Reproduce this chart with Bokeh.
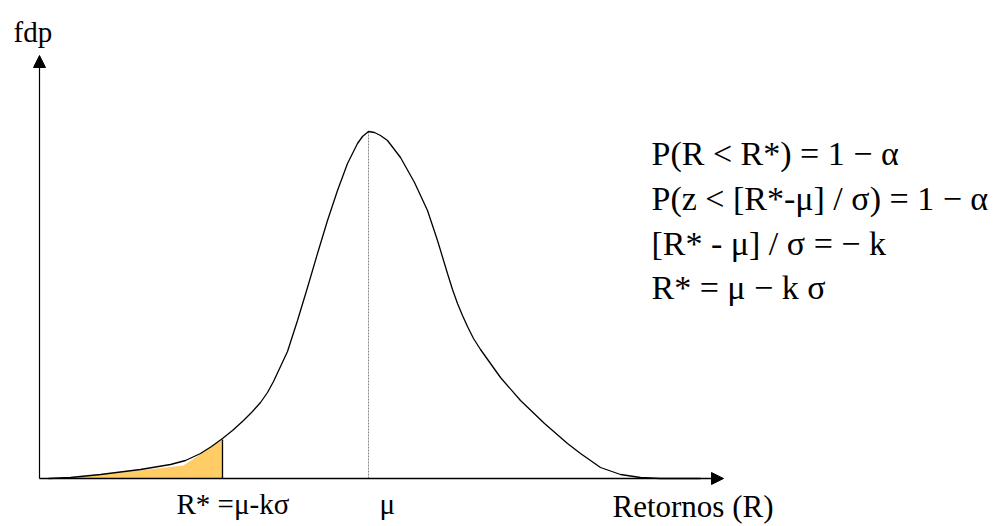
from bokeh.plotting import figure
from bokeh.models import Range1d, Arrow, NormalHead
from bokeh.embed import file_html
from bokeh.resources import INLINE
from bokeh.core.properties import value

# ---- data (returns on x, density on y, arbitrary units; origin at axes crossing) ----
ret = [9, 31, 61, 101, 131, 146, 161, 172, 183, 193, 204, 213, 221, 228, 234, 241, 248,
       258, 268, 278, 288, 298, 308, 318, 323, 329, 335, 341, 348, 361, 375, 388, 398,
       408, 413, 418, 423, 428, 434, 441, 461, 481, 505, 528, 541, 561, 581, 601, 621, 661]
fdp = [0, 1, 4, 9, 14, 18, 25, 32, 40, 48, 58, 67, 76, 86, 97, 112, 127,
       158, 191, 225, 258, 288, 315, 335, 342, 347, 346, 343, 338, 321, 296, 268, 238,
       205, 189, 175, 163, 152, 140, 129, 101, 78, 55, 35, 25, 11, 4, 1, 0, 0]

# shaded lower tail (approximate polygon as drawn)
shade_ret = [28, 144, 183, 183]
shade_fdp = [0, 13, 39, 0]

r_star = 183          # R* = mu - k sigma
r_star_fdp = 39
mu = 329              # mean
mu_fdp = 347          # peak density

x_axis_end = 684
y_axis_end = 423

tick_labels = ["R* =\u03bc-k\u03c3", "\u03bc"]
axis_labels = ["fdp", "Retornos (R)"]
equations = [
    "P(R < R*) = 1 \u2212 \u03b1",
    "P(z < [R*-\u03bc] / \u03c3) = 1 \u2212 \u03b1",
    "[R* - \u03bc] / \u03c3 = \u2212 k",
    "R* = \u03bc \u2212 k \u03c3",
]

FONT = value("Liberation Serif")

p = figure(width=998, height=526, output_backend="svg", toolbar_location=None,
           x_range=Range1d(-39, 959), y_range=Range1d(-48, 478),
           x_axis_type=None, y_axis_type=None, min_border=0, tools="",
           outline_line_color=None, background_fill_color="white",
           border_fill_color="white")

# shaded tail
p.patch(shade_ret, shade_fdp, fill_color="#FFCC66", line_color=None)
p.segment(x0=[r_star], y0=[0], x1=[r_star], y1=[r_star_fdp], line_color="black", line_width=1.3)

# mean line
p.segment(x0=[mu], y0=[0], x1=[mu], y1=[mu_fdp], line_color="#8a8a8a", line_width=1, line_dash="2 1")

# density curve
p.line(ret, fdp, line_color="black", line_width=1.3)

# axes with arrows
p.add_layout(Arrow(end=NormalHead(size=12, fill_color="black", line_color="black"),
                   x_start=0, y_start=0, x_end=x_axis_end, y_end=0,
                   line_color="black", line_width=1.5))
p.add_layout(Arrow(end=NormalHead(size=12, fill_color="black", line_color="black"),
                   x_start=0, y_start=0, x_end=0, y_end=y_axis_end,
                   line_color="black", line_width=1.2))

# texts
p.text(x=[-26], y=[447], text=[axis_labels[0]], text_font=FONT, text_font_size="29px",
       text_baseline="alphabetic", text_align="left", text_color="black")
p.text(x=[573], y=[-28], text=[axis_labels[1]], text_font=FONT, text_font_size="31px",
       text_baseline="alphabetic", text_align="left", text_color="black")
p.text(x=[137, 340], y=[-25, -25], text=tick_labels, text_font=FONT, text_font_size="29px",
       text_baseline="alphabetic", text_align="left", text_color="black")
p.text(x=[612] * 4, y=[325, 280, 235, 191], text=equations, text_font=FONT,
       text_font_size="34px", text_baseline="alphabetic", text_align="left", text_color="black")

open("out.html", "w").write(file_html(p, INLINE))
